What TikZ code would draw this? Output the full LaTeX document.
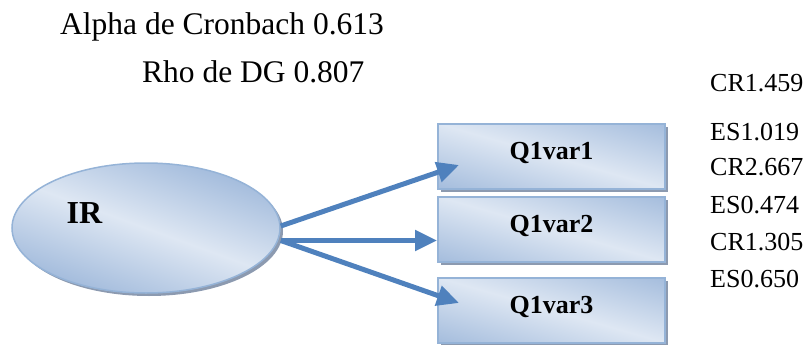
\documentclass[tikz,border=0pt]{standalone}
\usepackage{fontspec}
\setmainfont{Liberation Serif}
\usetikzlibrary{shapes.geometric,arrows.meta,shadows}
\definecolor{shadeDark}{RGB}{165,189,221}
\definecolor{shadeLight}{RGB}{222,231,243}
\definecolor{rim}{RGB}{149,179,215}
\definecolor{arrowblue}{RGB}{79,129,189}
\definecolor{shadowgray}{RGB}{140,154,176}
\begin{document}
\begin{tikzpicture}[x=1pt,y=-1pt,
  % diagonal light band: #1 = tilt of the band, #2 = half-width of the gradient
  bandgrad/.style 2 args={fill=shadeLight,path picture={
    \begin{scope}[transform canvas={rotate around={#1:(path picture bounding box.center)}}]
      \shade[top color=shadeDark,bottom color=shadeDark,middle color=shadeLight]
        ([shift={(-170pt,-#2)}]path picture bounding box.center) rectangle
        ([shift={(170pt,#2)}]path picture bounding box.center);
    \end{scope}}},
  castshadow/.style={drop shadow={shadow xshift=3pt,shadow yshift=-3pt,fill=shadowgray,opacity=1}},
  latent/.style={ellipse,draw=rim,line width=1.5pt,bandgrad={-20}{76pt},castshadow,
    minimum width=268pt,minimum height=130pt,inner sep=0pt},
  indicator/.style={rectangle,draw=rim,line width=2pt,bandgrad={-16}{62pt},castshadow,
    minimum width=227pt,minimum height=65pt,inner sep=0pt,
    font=\fontsize{26}{30}\selectfont\bfseries,text height=17pt,text depth=10pt},
  heading/.style={anchor=base west,inner sep=0pt,font=\fontsize{31.5}{36}\selectfont},
  weight/.style={anchor=base west,inner sep=0pt,font=\fontsize{26}{30}\selectfont},
  loadarrow/.style={draw=arrowblue,line width=5pt,-{Triangle[length=22pt,width=20pt]}}]
\useasboundingbox (0,0) rectangle (809,345);

% reliability figures
\node[heading] (alpha) at (60,35) {Alpha de Cronbach 0.613};
\node[heading] (rho) at (142,82) {Rho de DG 0.807};

% latent construct
\node[latent] (ir) at (146,228) {};
\node[anchor=base,inner sep=0pt,font=\fontsize{32}{36}\selectfont\bfseries] (irlabel) at (84.5,223) {IR};

% indicators
\node[indicator] (q1) at (551.5,156) {Q1var1};
\node[indicator] (q2) at (551.5,229) {Q1var2};
\node[indicator] (q3) at (551.5,310) {Q1var3};

% loadings
\draw[loadarrow] ([yshift=2pt]ir.east) -- ([shift={(22,9)}]q1.west);
\draw[loadarrow] ([shift={(0,12.5)}]ir.east) -- ([shift={(0,11.5)}]q2.west);
\draw[loadarrow] ([shift={(0,12.5)}]ir.east) -- ([shift={(22,-7)}]q3.west);

% indicator statistics
\node[weight] (cr1) at (710,92) {CR1.459};
\node[weight] (es1) at (710,140) {ES1.019};
\node[weight] (cr2) at (710,175) {CR2.667};
\node[weight] (es2) at (710,213) {ES0.474};
\node[weight] (cr3) at (710,250) {CR1.305};
\node[weight] (es3) at (710,287) {ES0.650};
\end{tikzpicture}
\end{document}
